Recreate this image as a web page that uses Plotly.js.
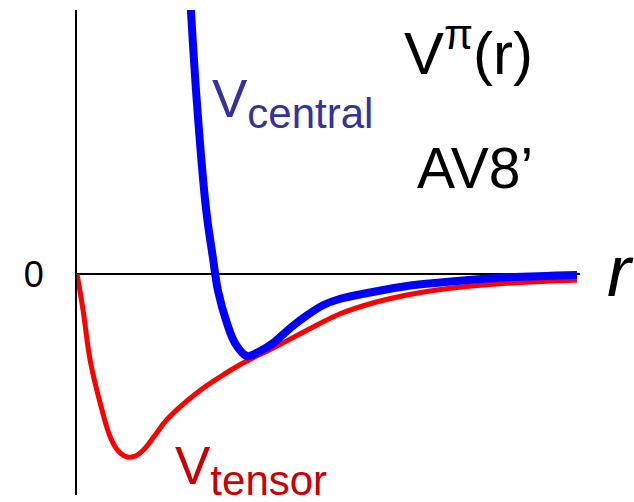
<!DOCTYPE html>
<html><head><meta charset="utf-8">
<script src="https://cdn.plot.ly/plotly-3.0.1.min.js"></script>
<style>html,body{margin:0;padding:0;background:#fff;}</style>
</head><body>
<div id="chart" style="width:634px;height:502px;"></div>
<script>
// r (arbitrary units) and potentials (arbitrary units)
const rTensor = [0, 0.06, 0.13, 0.23, 0.33, 0.41, 0.50, 0.58, 0.66, 0.77, 0.89, 1.19, 1.42, 1.65, 1.95, 2.29, 2.61, 2.94, 3.28, 3.61, 4.17, 4.97];
const vTensor = [0, -3.6, -8.6, -12.9, -16.3, -17.7, -18.3, -18.2, -17.6, -16.2, -14.6, -11.9, -10.3, -8.9, -7.4, -5.6, -4.0, -2.9, -2.1, -1.55, -1.0, -0.6];
const rCentral = [1.126, 1.19, 1.27, 1.30, 1.35, 1.40, 1.49, 1.57, 1.69, 1.82, 1.95, 2.12, 2.29, 2.45, 2.61, 2.94, 3.28, 3.61, 4.17, 4.97];
const vCentral = [27.4, 17.4, 7.7, 5.1, 1.7, -1.6, -4.9, -6.9, -8.2, -7.7, -6.9, -5.4, -4.1, -3.1, -2.5, -1.8, -1.2, -0.85, -0.4, -0.1];
const yTickVals = [0];
const yTickText = ['0'];

const FONT = 'Liberation Sans, Arial, sans-serif';

const traces = [
  {x: rTensor, y: vTensor, mode: 'lines', line: {color: '#ff0000', width: 5, shape: 'spline', smoothing: 1}, hoverinfo: 'skip'},
  {x: rCentral, y: vCentral, mode: 'lines', line: {color: '#0000ff', width: 8, shape: 'spline', smoothing: 1}, hoverinfo: 'skip'}
];

const layout = {
  width: 634, height: 502,
  margin: {l: 77, r: 54, t: 10, b: 7, pad: 0},
  paper_bgcolor: '#ffffff', plot_bgcolor: '#ffffff',
  showlegend: false,
  font: {family: FONT, color: '#000'},
  xaxis: {range: [0, 5], showgrid: false, zeroline: false, showline: false, showticklabels: false, ticks: ''},
  yaxis: {range: [-22.1, 26.4], showgrid: false, zeroline: true, zerolinecolor: '#000', zerolinewidth: 2,
          showline: true, linecolor: '#000', linewidth: 2, mirror: false,
          tickvals: yTickVals, ticktext: yTickText, ticks: '', ticklabelstandoff: 24,
          tickfont: {size: 36, family: FONT, color: '#000'}},
  annotations: [
    {xref: 'x', yref: 'y', x: 3.23, y: 22.5, xanchor: 'left', yanchor: 'middle', showarrow: false,
     text: 'V<sup>π</sup>(r)', font: {size: 60, family: FONT, color: '#000'}},
    {xref: 'x', yref: 'y', x: 3.36, y: 10.6, xanchor: 'left', yanchor: 'middle', showarrow: false,
     text: 'AV8’', font: {size: 57, family: FONT, color: '#000'}},
    {xref: 'x', yref: 'y', x: 1.32, y: 17.1, xanchor: 'left', yanchor: 'middle', showarrow: false,
     text: 'V<sub><span style="font-size:42px">central</span></sub>', font: {size: 53, family: FONT, color: '#333399'}},
    {xref: 'x', yref: 'y', x: 0.95, y: -19.6, xanchor: 'left', yanchor: 'middle', showarrow: false,
     text: 'V<sub><span style="font-size:42px">tensor</span></sub>', font: {size: 53, family: FONT, color: '#cc0000'}},
    {xref: 'paper', yref: 'paper', x: 1.05, y: 0.462, xanchor: 'left', yanchor: 'middle', showarrow: false,
     text: '<i>r</i>', font: {size: 72, family: FONT, color: '#000'}}
  ]
};

Plotly.newPlot('chart', traces, layout, {staticPlot: true, displayModeBar: false});
</script>
</body></html>
